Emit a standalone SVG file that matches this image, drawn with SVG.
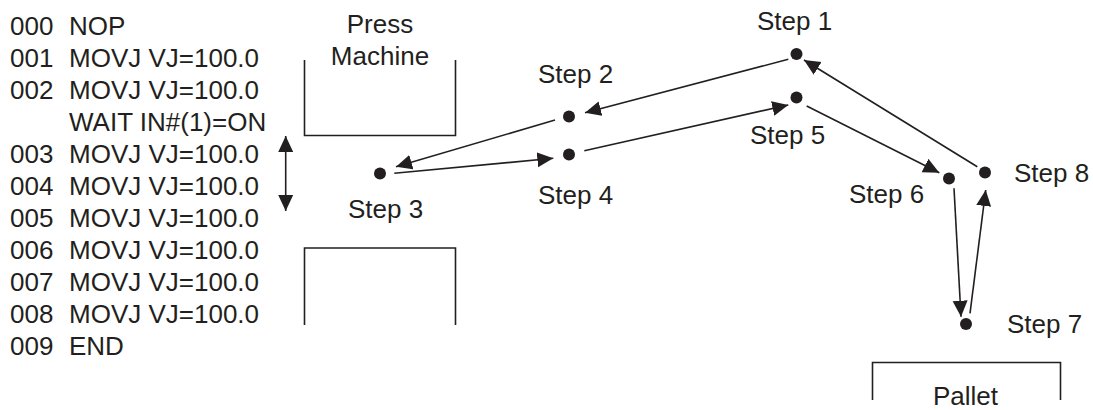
<svg xmlns="http://www.w3.org/2000/svg" width="1093" height="410" viewBox="0 0 1093 410">
<style>
text{font-family:"Liberation Sans",Arial,sans-serif;font-size:26px;fill:#231f20}
.ln{stroke:#231f20;stroke-width:1.6;fill:none}
.dot{fill:#231f20}
.mid{text-anchor:middle}
</style>
<defs>
<marker id="ah" markerUnits="userSpaceOnUse" markerWidth="18" markerHeight="16" refX="16" refY="7.5" orient="auto-start-reverse" viewBox="0 0 18 15">
<path d="M0,0 L16,7.5 L0,15 Z" fill="#231f20"/>
</marker>
</defs>
<g id="program">
<text x="10" y="35">000</text><text x="69" y="35">NOP</text>
<text x="10" y="67">001</text><text x="69" y="67">MOVJ VJ=100.0</text>
<text x="10" y="99">002</text><text x="69" y="99">MOVJ VJ=100.0</text>
<text x="69" y="131">WAIT IN#(1)=ON</text>
<text x="10" y="163">003</text><text x="69" y="163">MOVJ VJ=100.0</text>
<text x="10" y="195">004</text><text x="69" y="195">MOVJ VJ=100.0</text>
<text x="10" y="227">005</text><text x="69" y="227">MOVJ VJ=100.0</text>
<text x="10" y="259">006</text><text x="69" y="259">MOVJ VJ=100.0</text>
<text x="10" y="291">007</text><text x="69" y="291">MOVJ VJ=100.0</text>
<text x="10" y="323">008</text><text x="69" y="323">MOVJ VJ=100.0</text>
<text x="10" y="355">009</text><text x="69" y="355">END</text>
</g>
<g id="press-machine">
<text class="mid" x="380" y="33">Press</text>
<text class="mid" x="380" y="65">Machine</text>
<path class="ln" d="M304.5,60 V135.5 H455.5 V60"/>
<path class="ln" d="M304.5,325 V248 H455.5 V325"/>
</g>
<g id="pallet">
<path class="ln" d="M872.5,400 V362.5 H1060.5 V400"/>
<text class="mid" x="965.5" y="405">Pallet</text>
</g>
<g id="step1"><circle class="dot" cx="796.5" cy="54" r="6"/><text x="757" y="30">Step 1</text></g>
<g id="step2"><circle class="dot" cx="569" cy="116.5" r="6"/><text x="538" y="83">Step 2</text></g>
<g id="step3"><circle class="dot" cx="380" cy="173.5" r="6"/><text x="348" y="218">Step 3</text></g>
<g id="step4"><circle class="dot" cx="569" cy="154.5" r="6"/><text x="538" y="204">Step 4</text></g>
<g id="step5"><circle class="dot" cx="796.5" cy="97.5" r="6"/><text x="750" y="144">Step 5</text></g>
<g id="step6"><circle class="dot" cx="949" cy="178.5" r="6"/><text x="849" y="203">Step 6</text></g>
<g id="step7"><circle class="dot" cx="966" cy="324" r="6"/><text x="1007" y="333">Step 7</text></g>
<g id="step8"><circle class="dot" cx="985" cy="172.5" r="6"/><text x="1014" y="182">Step 8</text></g>
<g id="connectors">
<line class="ln" x1="285.7" y1="136" x2="285.7" y2="211" marker-start="url(#ah)" marker-end="url(#ah)"/>
<line class="ln" x1="788.3" y1="59.3" x2="585" y2="112.7" marker-end="url(#ah)"/>
<line class="ln" x1="555" y1="120" x2="396" y2="166.7" marker-end="url(#ah)"/>
<line class="ln" x1="394.3" y1="173.3" x2="553.3" y2="158.3" marker-end="url(#ah)"/>
<line class="ln" x1="584.3" y1="150.7" x2="788.3" y2="105" marker-end="url(#ah)"/>
<line class="ln" x1="806.7" y1="106" x2="939.3" y2="172.7" marker-end="url(#ah)"/>
<line class="ln" x1="954" y1="188.3" x2="961" y2="316.7" marker-end="url(#ah)"/>
<line class="ln" x1="970" y1="313.3" x2="985.7" y2="190" marker-end="url(#ah)"/>
<line class="ln" x1="977.3" y1="166.7" x2="804" y2="60" marker-end="url(#ah)"/>
</g>
</svg>
